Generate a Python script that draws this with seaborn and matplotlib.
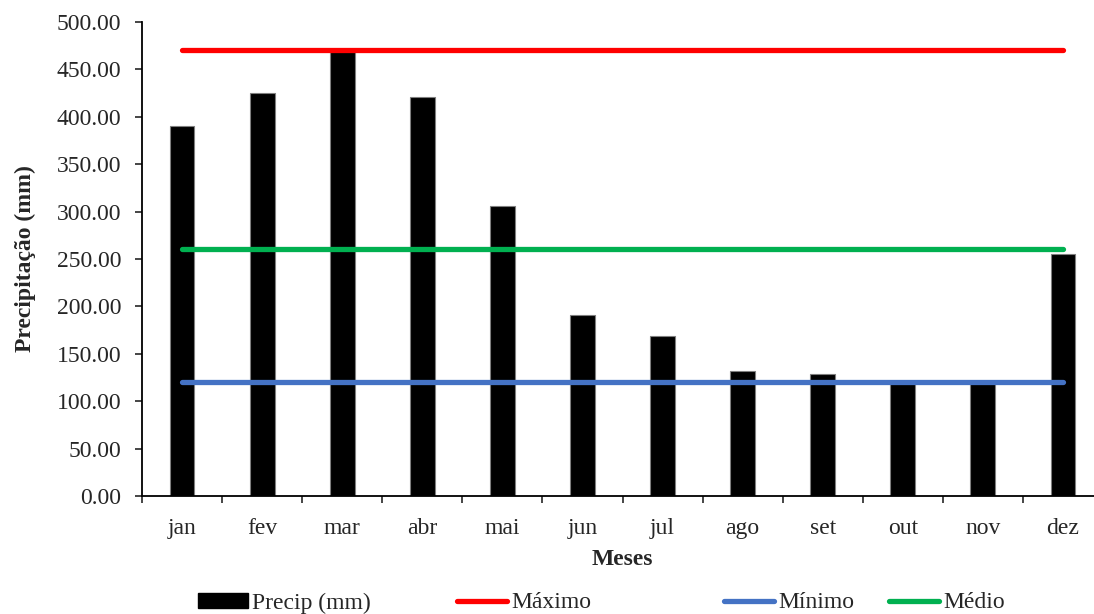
import numpy as np
import pandas as pd
import matplotlib
matplotlib.use("Agg")
import matplotlib.pyplot as plt
import seaborn as sns
from matplotlib.patches import Patch
from matplotlib.lines import Line2D

meses = ["jan", "fev", "mar", "abr", "mai", "jun", "jul", "ago", "set", "out", "nov", "dez"]
precip = [390, 425, 470, 421, 306, 191, 169, 132, 129, 120, 120, 255]
maximo = [470] * 12
minimo = [120] * 12
medio = [261] * 12

sns.set_style("white")
plt.rcParams["font.family"] = ["Liberation Serif", "DejaVu Serif"]

df = pd.DataFrame({"mes": meses, "precip": precip})
x = np.arange(len(meses))

fig = plt.figure(figsize=(10.94, 6.14), dpi=100)
ax = fig.add_axes([142 / 1094, 1 - 496 / 614, 961 / 1094, 474 / 614])

sns.barplot(data=df, x="mes", y="precip", color="black", width=0.31,
            edgecolor="#7f7f7f", linewidth=0.8, saturation=1, ax=ax)
sns.lineplot(x=x, y=maximo, color="#FF0000", linewidth=3.8, ax=ax,
             solid_capstyle="round")
sns.lineplot(x=x, y=minimo, color="#4472C4", linewidth=3.8, ax=ax,
             solid_capstyle="round")
sns.lineplot(x=x, y=medio, color="#00B050", linewidth=3.8, ax=ax,
             solid_capstyle="round")

ax.set_xlim(-0.5, 11.5)
ax.set_ylim(0, 500)
ax.set_yticks(np.arange(0, 501, 50))
ax.set_yticklabels([f"{v:.2f}" for v in np.arange(0, 501, 50)])
ax.set_xticks(x)
ax.set_xticklabels(meses)
ax.set_xticks(np.arange(-0.5, 12, 1), minor=True)
ax.tick_params(axis="x", which="major", length=0, pad=16, labelsize=17)
ax.tick_params(axis="x", which="minor", length=5, width=1.2, direction="out", bottom=True)
ax.tick_params(axis="y", length=5, width=1.2, direction="out", left=True, pad=10, labelsize=17)

for s in ["top", "right"]:
    ax.spines[s].set_visible(False)
for s in ["left", "bottom"]:
    ax.spines[s].set_color("black")
    ax.spines[s].set_linewidth(1.3)

ax.set_xlabel("Meses", fontsize=17, fontweight="bold", labelpad=7)
ax.set_ylabel("Precipitação (mm)", fontsize=17, fontweight="bold", labelpad=15)

# legend entries placed one by one, like the Excel layout
handles = [
    Patch(facecolor="black", edgecolor="black"),
    Line2D([0], [0], color="#FF0000", linewidth=3.8, solid_capstyle="round"),
    Line2D([0], [0], color="#4472C4", linewidth=3.8, solid_capstyle="round"),
    Line2D([0], [0], color="#00B050", linewidth=3.8, solid_capstyle="round"),
]
labels = ["Precip (mm)", "Máximo", "Mínimo", "Médio"]
starts = [198, 457, 724, 889]
for h, lab, xs in zip(handles, labels, starts):
    leg = fig.legend([h], [lab], loc="center left", bbox_to_anchor=(xs / 1094, 1 - 603 / 614),
                     frameon=False, fontsize=17, handlelength=2.1, handleheight=0.6,
                     handletextpad=0.2, borderpad=0, borderaxespad=0)

fig.savefig("out.png", dpi=100)
plt.close()
